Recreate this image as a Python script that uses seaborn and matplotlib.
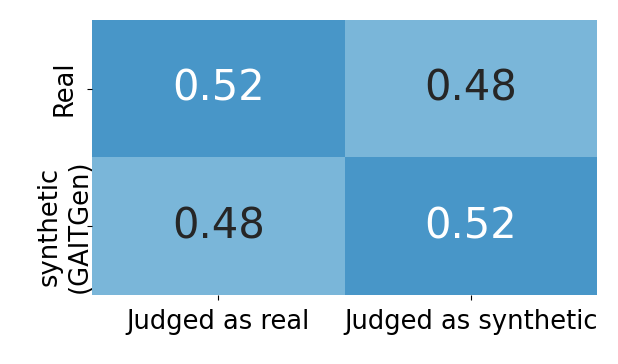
import numpy as np
import pandas as pd
import matplotlib
matplotlib.use("Agg")
import matplotlib.pyplot as plt
import seaborn as sns

# dados da matriz de confusão (teste de percepção)
linhas = ["Real", "synthetic\n(GAITGen)"]
colunas = ["Judged as real", "Judged as synthetic"]
valores = [[0.52, 0.48],
           [0.48, 0.52]]

df = pd.DataFrame(valores, index=linhas, columns=colunas)

fig, ax = plt.subplots(figsize=(6.18, 3.64), dpi=100)
sns.heatmap(df, annot=True, fmt=".2f", cmap="Blues", vmin=0.35, vmax=0.63,
            cbar=False, annot_kws={"fontsize": 30}, ax=ax)
ax.tick_params(axis="both", labelsize=18.5)
plt.setp(ax.get_yticklabels(), rotation=90, va="center", ha="center",
         multialignment="center")
ax.tick_params(axis="y", pad=16)
ax.tick_params(axis="x", pad=7)
plt.subplots_adjust(left=0.149, right=0.966, top=0.945, bottom=0.19)
plt.savefig("out.png", dpi=100)
